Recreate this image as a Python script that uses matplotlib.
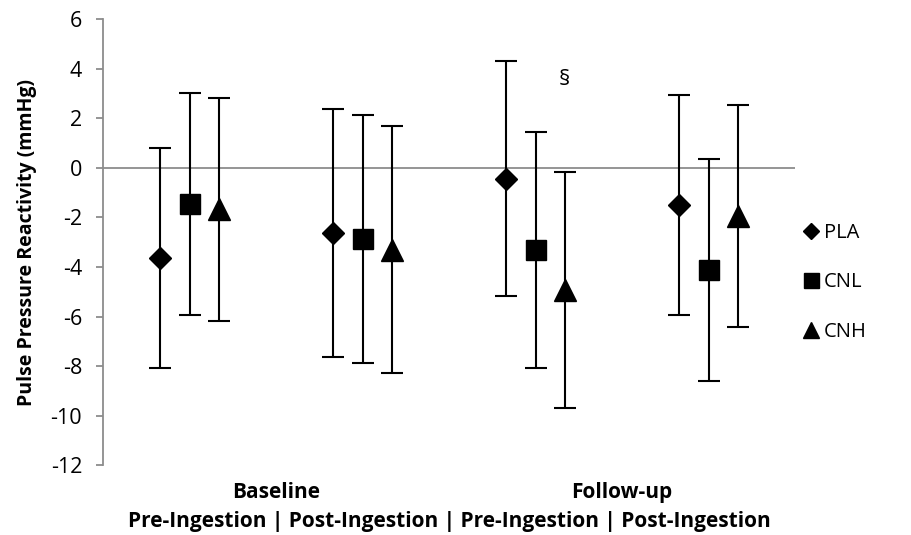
import matplotlib.pyplot as plt
import matplotlib.transforms as mtransforms
from matplotlib.lines import Line2D
import numpy as np

# data (mean and +/- error)
phases = ["Baseline Pre", "Baseline Post", "Follow-up Pre", "Follow-up Post"]
pla = [-3.64, -2.63, -0.43, -1.50]
pla_err = [4.45, 5.00, 4.75, 4.45]
cnl = [-1.45, -2.87, -3.31, -4.12]
cnl_err = [4.47, 5.00, 4.78, 4.47]
cnh = [-1.67, -3.30, -4.93, -1.95]
cnh_err = [4.50, 5.00, 4.77, 4.48]

group_labels = ["Baseline", "Follow-up"]
sub_label = "Pre-Ingestion | Post-Ingestion | Pre-Ingestion | Post-Ingestion"
yticks = [6, 4, 2, 0, -2, -4, -6, -8, -10, -12]

plt.rcParams['font.family'] = ['Open Sans', 'DejaVu Sans']
plt.rcParams['axes.unicode_minus'] = False

fig = plt.figure(figsize=(9.11, 5.35), dpi=100)
ax = fig.add_axes([0.1131, 0.1308, 0.7596, 0.8328])

x = np.arange(len(phases))
off = 0.168
series = [
    (pla, pla_err, -off, 'D', 11.5, 'PLA'),
    (cnl, cnl_err, 0.0, 's', 15, 'CNL'),
    (cnh, cnh_err, off, '^', 16, 'CNH'),
]
handles = []
for vals, err, dx, mk, ms, name in series:
    ax.errorbar(x + dx, vals, yerr=err, fmt=mk, color='black', ms=ms,
                ecolor='black', elinewidth=1.5, capsize=8, capthick=1.5,
                zorder=3)
    handles.append(Line2D([], [], ls='none', marker=mk, color='black',
                          ms=ms * 0.72, label=name))

ax.axhline(0, color='#8c8c8c', lw=1.3, zorder=1)

ax.set_xlim(-0.5, 3.5)
ax.set_ylim(-12, 6)
ax.set_yticks(yticks)
ax.set_xticks([])
for s in ['top', 'right', 'bottom']:
    ax.spines[s].set_visible(False)
ax.spines['left'].set_color('#8c8c8c')
ax.spines['left'].set_linewidth(1.3)
ax.tick_params(axis='y', direction='out', length=5, color='#8c8c8c',
               width=1.3, labelsize=15.5, pad=10)

ax.set_ylabel("Pulse Pressure Reactivity (mmHg)", fontsize=14,
              fontweight='bold', labelpad=10)

# section symbol above follow-up CNH
ax.text(x[2] + off, 3.56, "§", ha='center', va='center', fontsize=16)

trans = mtransforms.blended_transform_factory(ax.transData, ax.transAxes)
ax.text(0.5, -0.061, group_labels[0], transform=trans, ha='center',
        va='center', fontsize=15, fontweight='bold')
ax.text(2.5, -0.061, group_labels[1], transform=trans, ha='center',
        va='center', fontsize=15, fontweight='bold')
ax.text(1.5, -0.126, sub_label, transform=trans, ha='center',
        va='center', fontsize=15, fontweight='bold')

ax.legend(handles=handles, loc='center left', bbox_to_anchor=(1.0, 0.41),
          frameon=False, fontsize=14.5, handlelength=0.8,
          handletextpad=0.25, labelspacing=1.45, borderaxespad=0.0)

fig.savefig("out.png", dpi=100)
